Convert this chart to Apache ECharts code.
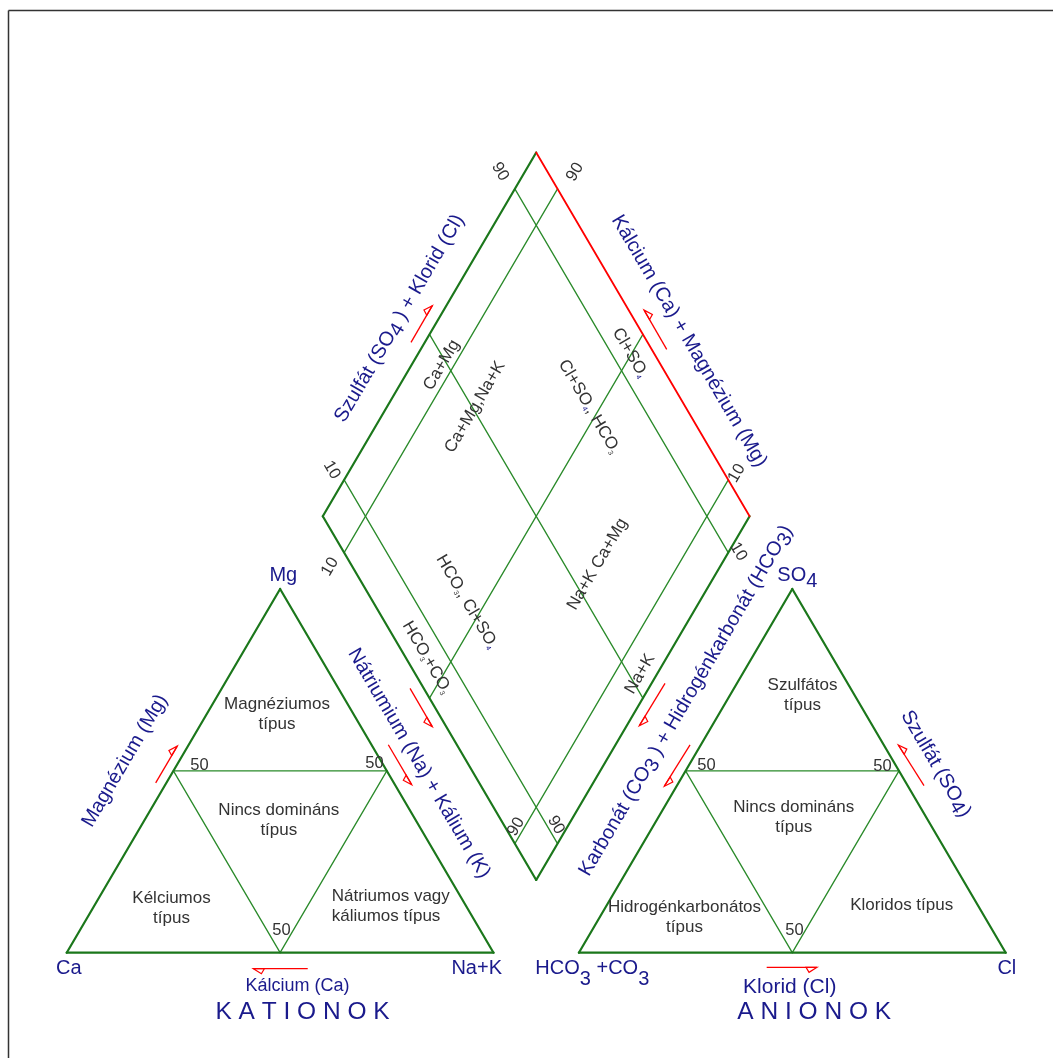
<!DOCTYPE html>
<html>
<head>
<meta charset="utf-8">
<title>Piper-diagram</title>
<script src="https://cdn.jsdelivr.net/npm/echarts@6/dist/echarts.min.js"></script>
<style>
  html, body { margin: 0; padding: 0; background: #ffffff; }
  #chart { width: 1053px; height: 1058px; }
</style>
</head>
<body>
<div id="chart"></div>
<script>
// ---------------------------------------------------------------
// Piper diagram: cation triangle, anion triangle and central field.
// Plot units: triangle side = 100, so percentages map directly.
// ---------------------------------------------------------------
const H = 100 * Math.sqrt(3) / 2;   // triangle height in plot units
const GAP = 20;                      // gap between the two triangles

// percentage levels of the grid lines
const diamondLevels = [10, 50, 90];
const diamondTickLevels = [10, 90];
const triangleLevels = [50];

// corner names of the triangles (Ca / Na+K / Mg and HCO3+CO3 / Cl / SO4)
const cationVertices = ['Ca', 'Na+K', 'Mg'];
const anionVertices = ['HCO{s|3} +CO{s|3}', 'Cl', 'SO{s|4}'];

// water-type field names
const cationFields = ['Magnéziumos\ntípus', 'Nincs domináns\ntípus', 'Kélciumos\ntípus', 'Nátriumos vagy\nkáliumos típus'];
const anionFields = ['Szulfátos\ntípus', 'Nincs domináns\ntípus', 'Hidrogénkarbonátos\ntípus', 'Kloridos típus'];
const diamondFields = ['Ca+Mg', 'Ca+Mg,Na+K', 'Cl+SO{b|4}', 'Cl+SO{b|4}, HCO{g|3}',
                       'HCO{g|3}, Cl+SO{b|4}', 'HCO{g|3}+CO{g|3}', 'Na+K Ca+Mg', 'Na+K'];

// axis names
const edgeTitles = ['Magnézium (Mg)', 'Nátriumium (Na) + Kálium (K)',
                    'Karbonát (CO{s|3} ) + Hidrogénkarbonát (HCO{s|3})', 'Szulfát (SO{s|4})',
                    'Szulfát (SO{s|4} ) + Klorid (Cl)', 'Kálcium (Ca) + Magnézium (Mg)'];
const baseTitles = ['Kálcium (Ca)', 'Klorid (Cl)'];
const groupTitles = ['K A T I O N O K', 'A N I O N O K'];

// ---------------------------------------------------------------
// geometry helpers (plot units)
// ---------------------------------------------------------------
function cation(mg, na) { return [na + mg / 2, mg * H / 100]; }
function anion(so4, cl) { return [100 + GAP + cl + so4 / 2, so4 * H / 100]; }
// a = SO4+Cl %, c = Ca+Mg %
function diamond(a, c) { return [100 + GAP / 2 + (a - c) / 2, GAP * H / 100 + (a + c) * H / 100]; }

// ---------------------------------------------------------------
// annotation placement (plot units)
// ---------------------------------------------------------------
const layout = {
  cationFields: [[49.27, 56.71, 'center'], [49.70, 31.48, 'center'], [24.56, 10.48, 'center'], [62.09, 10.95, 'left']],
  anionFields: [[172.40, 61.26, 'center'], [170.34, 32.24, 'center'], [144.75, 8.38, 'center'], [195.64, 11.29, 'center']],
  diamondFields: [[87.86, 139.93, 'up'], [95.67, 129.93, 'up'], [131.98, 142.83, 'down'], [122.38, 130.0, 'down'],
                  [93.72, 83.57, 'down'], [84.35, 70.29, 'down'], [124.37, 92.5, 'up'], [134.33, 66.36, 'up']],
  cationLevelLabels: [[31.12, 44.64], [72.12, 45.10], [50.33, 5.29]],
  anionLevelLabels: [[149.91, 44.57], [191.14, 44.45], [170.52, 5.29]],
  // tick labels of the central field: upper end, lower end
  diamondTicks: {
    a10: [[62.09, 114.93], [114.64, 30.40]],
    a90: [[101.53, 185.95], [157.36, 95.48]],
    c10: [[156.98, 114.14], [105.27, 30.0]],
    c90: [[119.10, 185.88], [61.69, 91.90]]
  },
  cationVertices: [[0.49, -3.71], [96.06, -3.71], [50.75, 89.74]],
  anionVertices: [[123.15, -3.64], [220.27, -3.64], [171.18, 89.74]],
  edgeTitles: [[13.66, 45.69], [82.54, 45.10], [145.1, 59.98], [203.63, 44.93], [77.98, 151.0], [145.81, 145.64]],
  baseTitles: [[54.08, -7.88], [169.4, -8.17]],
  groupTitles: [[55.25, -14.17], [175.14, -14.17]],
  // red direction arrows: from, to, barb side
  arrows: [
    [[80.67, 145.33], [85.66, 154.05], 1],
    [[140.58, 143.65], [135.27, 153.0], -1],
    [[80.44, 62.95], [85.66, 53.81], -1],
    [[75.35, 49.52], [80.83, 40.0], -1],
    [[20.85, 40.45], [25.91, 49.19], 1],
    [[56.47, -3.81], [43.74, -3.81], 1],
    [[140.18, 64.14], [134.16, 54.05], 1],
    [[146.04, 49.5], [140.02, 39.64], 1],
    [[200.86, 39.76], [194.84, 49.45], -1],
    [[164.0, -3.48], [175.8, -3.48], -1]
  ]
};

const FONT = '"Liberation Sans", Arial, Helvetica, sans-serif';
const NAVY = '#1a1a8c';
const DARK = '#333333';
const EDGE = '#1b771b';
const INNER = '#2a8a2a';
const RED = '#ff0000';

function renderItem(params, api) {
  const children = [];
  const P = p => api.coord(p);

  function seg(p, q, stroke, w) {
    const a = P(p), b = P(q);
    children.push({ type: 'line', shape: { x1: a[0], y1: a[1], x2: b[0], y2: b[1] },
                    style: { stroke: stroke, lineWidth: w, lineCap: 'round' } });
  }
  function angle(p, q) {
    const a = P(p), b = P(q);
    return Math.atan2(-(b[1] - a[1]), b[0] - a[0]);
  }
  function label(pos, str, o) {
    const c = P(pos);
    const style = {
      text: str, fill: o.color, fontSize: o.size, fontFamily: FONT,
      align: o.align || 'center', verticalAlign: 'middle'
    };
    if (o.lineHeight) style.lineHeight = o.lineHeight;
    if (o.rich) style.rich = o.rich;
    children.push({ type: 'text', x: c[0], y: c[1], rotation: o.rotation || 0, style: style });
  }
  function subRich(size, color) {
    return { s: { fontSize: size, fontFamily: FONT, fill: color, verticalAlign: 'bottom' } };
  }
  function arrow(p, q, side) {
    const a = P(p), b = P(q);
    let dx = b[0] - a[0], dy = b[1] - a[1];
    const len = Math.hypot(dx, dy); dx /= len; dy /= len;
    const nx = dy * side, ny = -dx * side;
    children.push({ type: 'line', shape: { x1: a[0], y1: a[1], x2: b[0], y2: b[1] },
                    style: { stroke: RED, lineWidth: 1.3 } });
    children.push({ type: 'polygon',
                    shape: { points: [[b[0], b[1]],
                                      [b[0] - 8 * dx + 5 * nx, b[1] - 8 * dy + 5 * ny],
                                      [b[0] - 11 * dx, b[1] - 11 * dy]] },
                    style: { fill: 'none', stroke: RED, lineWidth: 1.2 } });
  }

  // ---- triangles ----
  const tri = [
    { f: cation, fields: cationFields, fpos: layout.cationFields, lv: layout.cationLevelLabels,
      names: cationVertices, npos: layout.cationVertices },
    { f: anion, fields: anionFields, fpos: layout.anionFields, lv: layout.anionLevelLabels,
      names: anionVertices, npos: layout.anionVertices }
  ];
  tri.forEach(function (t) {
    // inner iso-lines for each component
    triangleLevels.forEach(function (p) {
      seg(t.f(p, 0), t.f(p, 100 - p), INNER, 1.3);          // top component = p
      seg(t.f(0, p), t.f(100 - p, p), INNER, 1.3);          // right component = p
      seg(t.f(0, 100 - p), t.f(100 - p, 0), INNER, 1.3);    // left component = p
    });
    // outer edges
    seg(t.f(0, 0), t.f(0, 100), EDGE, 2.2);
    seg(t.f(0, 100), t.f(100, 0), EDGE, 2.2);
    seg(t.f(100, 0), t.f(0, 0), EDGE, 2.2);

    t.fields.forEach(function (s, i) {
      const fp = t.fpos[i];
      label([fp[0], fp[1]], s, { color: DARK, size: 17, lineHeight: 20, align: fp[2] });
    });
    t.lv.forEach(function (pos) {
      label(pos, String(triangleLevels[0]), { color: DARK, size: 16.5 });
    });
    t.names.forEach(function (s, i) {
      let lh = 0;
      if (s.indexOf('HCO') === 0) lh = 42;
      else if (s.indexOf('SO') === 0) lh = 32;
      label(t.npos[i], s, { color: NAVY, size: 20, lineHeight: lh || undefined,
                            rich: lh ? subRich(20, NAVY) : undefined });
    });
  });

  // ---- central field ----
  diamondLevels.forEach(function (p) {
    seg(diamond(p, 0), diamond(p, 100), INNER, 1.3);   // constant SO4+Cl
    seg(diamond(0, p), diamond(100, p), INNER, 1.3);   // constant Ca+Mg
  });
  seg(diamond(0, 100), diamond(100, 100), EDGE, 2.2);
  seg(diamond(0, 0), diamond(0, 100), EDGE, 2.2);
  seg(diamond(0, 0), diamond(100, 0), EDGE, 2.2);
  seg(diamond(100, 100), diamond(100, 0), RED, 1.8);

  const rotA = angle(diamond(0, 100), diamond(0, 0));    // along constant-a lines (down-right)
  const rotC = angle(diamond(0, 0), diamond(100, 0));    // along constant-c lines (up-right)
  diamondTickLevels.forEach(function (p) {
    const ta = layout.diamondTicks['a' + p], tc = layout.diamondTicks['c' + p];
    label(ta[0], String(p), { color: DARK, size: 16.5, rotation: rotA });
    label(ta[1], String(100 - p), { color: DARK, size: 16.5, rotation: rotA });
    label(tc[0], String(p), { color: DARK, size: 16.5, rotation: rotC });
    label(tc[1], String(100 - p), { color: DARK, size: 16.5, rotation: rotC });
  });

  const fieldRich = {
    b: { fontSize: 7, fontFamily: FONT, fill: NAVY, verticalAlign: 'bottom' },
    g: { fontSize: 7, fontFamily: FONT, fill: DARK, verticalAlign: 'bottom' }
  };
  diamondFields.forEach(function (s, i) {
    const fp = layout.diamondFields[i];
    label([fp[0], fp[1]], s, { color: DARK, size: 17, lineHeight: 17, rich: fieldRich,
                               rotation: fp[2] === 'up' ? rotC : rotA });
  });

  // ---- axis names ----
  const titleRot = [
    angle(cation(0, 0), cation(100, 0)),       // left edge of cation triangle
    angle(cation(100, 0), cation(0, 100)),     // right edge of cation triangle
    angle(anion(0, 0), anion(100, 0)),         // left edge of anion triangle
    angle(anion(100, 0), anion(0, 100)),       // right edge of anion triangle
    angle(diamond(0, 100), diamond(100, 100)), // upper-left edge of the field
    angle(diamond(100, 100), diamond(100, 0))  // upper-right edge of the field
  ];
  edgeTitles.forEach(function (s, i) {
    const hasSub = s.indexOf('{s|') >= 0;
    label(layout.edgeTitles[i], s, { color: NAVY, size: 20, rotation: titleRot[i],
                                     lineHeight: hasSub ? 28 : undefined,
                                     rich: hasSub ? subRich(20, NAVY) : undefined });
  });
  baseTitles.forEach(function (s, i) {
    label(layout.baseTitles[i], s, { color: NAVY, size: i === 0 ? 18 : 21 });
  });
  groupTitles.forEach(function (s, i) {
    label(layout.groupTitles[i], s, { color: NAVY, size: 24.5 });
  });

  layout.arrows.forEach(function (a) { arrow(a[0], a[1], a[2]); });

  return { type: 'group', children: children };
}

const chart = echarts.init(document.getElementById('chart'), null, { renderer: 'canvas' });
chart.setOption({
  backgroundColor: '#ffffff',
  animation: false,
  grid: { left: 66.7, right: 47.3, top: 112.7, bottom: 105.3 },
  xAxis: { type: 'value', min: 0, max: 200 + GAP, show: false },
  yAxis: { type: 'value', min: 0, max: 200, show: false },
  graphic: [
    { type: 'line', shape: { x1: 8.5, y1: 10.5, x2: 1053, y2: 10.5 }, style: { stroke: '#333333', lineWidth: 1.5 } },
    { type: 'line', shape: { x1: 8.5, y1: 10.5, x2: 8.5, y2: 1058 }, style: { stroke: '#333333', lineWidth: 1.5 } }
  ],
  series: [{
    type: 'custom',
    coordinateSystem: 'cartesian2d',
    silent: true,
    clip: false,
    renderItem: renderItem,
    data: [[0, 0]]
  }]
});
</script>
</body>
</html>
